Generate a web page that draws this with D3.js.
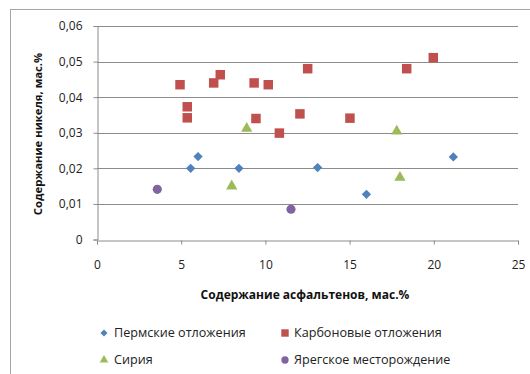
<!DOCTYPE html>
<html><head><meta charset="utf-8">
<script src="https://cdn.jsdelivr.net/npm/d3@7"></script>
<style>body{margin:0;background:#fff}svg{display:block}text{font-family:"Open Sans","Liberation Sans",sans-serif}</style>
</head><body><svg id="c" width="530" height="374"></svg>
<script>
const permX = [5.56, 6.0, 8.43, 13.1, 16.0, 21.16];
const permY = [0.020, 0.0233, 0.020, 0.0202, 0.0127, 0.0232];
const carbX = [4.93, 5.36, 5.36, 6.93, 7.32, 9.33, 9.44, 10.17, 10.83, 12.05, 12.51, 15.02, 18.39, 19.97];
const carbY = [0.0435, 0.0373, 0.0342, 0.044, 0.0463, 0.044, 0.034, 0.0435, 0.0299, 0.0353, 0.048, 0.0341, 0.048, 0.0511];
const syrX = [8.0, 8.89, 17.8, 17.99];
const syrY = [0.0150, 0.0312, 0.0304, 0.0174];
const yarX = [3.58, 11.52];
const yarY = [0.0141, 0.0085];
const xTicks = [0, 5, 10, 15, 20, 25];
const yTicks = [0, 0.01, 0.02, 0.03, 0.04, 0.05, 0.06];
const seriesNames = ["Пермские отложения", "Карбоновые отложения", "Сирия", "Ярегское месторождение"];
const xTitle = "Содержание асфальтенов,  мас.%";
const yTitle = "Содержание никеля, мас.%";

const svg = d3.select("#c");
svg.append("rect").attr("x",10.5).attr("y",9.5).attr("width",540).attr("height",400)
  .attr("fill","#fff").attr("stroke","#a6a6a6");

const x = d3.scaleLinear().domain([0,25]).range([97,518]);
const y = d3.scaleLinear().domain([0,0.06]).range([239.5,26]);

svg.append("g").selectAll("line").data(yTicks.filter(d=>d>0)).join("line")
  .attr("x1",x(0)).attr("x2",x(25)).attr("y1",d=>Math.round(y(d))+0.5).attr("y2",d=>Math.round(y(d))+0.5)
  .attr("stroke","#8c8c8c").attr("stroke-width",1);

const fmt = d => d===0 ? "0" : d3.format(".2f")(d).replace(".",",");
const yAxis = svg.append("g").attr("transform",`translate(${x(0)+0.5},0)`)
  .call(d3.axisLeft(y).tickValues(yTicks).tickFormat(fmt).tickSize(4).tickPadding(11));
const xAxis = svg.append("g").attr("transform",`translate(0,${Math.round(y(0))+0.5})`)
  .call(d3.axisBottom(x).tickValues(xTicks).tickFormat(d3.format("d")).tickSize(4).tickPadding(16));
[yAxis,xAxis].forEach(a=>{
  a.select(".domain").attr("stroke","#8c8c8c");
  a.selectAll(".tick line").attr("stroke","#8c8c8c");
  a.selectAll(".tick text").attr("fill","#222").attr("font-size","12px");
});

svg.append("text").attr("x",305).attr("y",299).attr("text-anchor","middle")
  .attr("font-size","12px").attr("font-weight","bold").attr("fill","#111").text(xTitle);
svg.append("text").attr("transform","translate(42,134) rotate(-90)").attr("text-anchor","middle")
  .attr("font-size","11.3px").attr("font-weight","bold").attr("fill","#111").text(yTitle);

const colors = ["#4F81BD","#C0504D","#9BBB59","#8064A2"];
const shapes = [
  d3.symbol().type(d3.symbolDiamond2).size(55),
  d3.symbol().type(d3.symbolSquare).size(90),
  d3.symbol().type(d3.symbolTriangle).size(55),
  d3.symbol().type(d3.symbolCircle).size(65)
];
const series = [
  permX.map((v,i)=>[v,permY[i]]),
  carbX.map((v,i)=>[v,carbY[i]]),
  syrX.map((v,i)=>[v,syrY[i]]),
  yarX.map((v,i)=>[v,yarY[i]])
];
series.forEach((pts,si)=>{
  svg.append("g").selectAll("path").data(pts).join("path")
    .attr("transform",d=>`translate(${x(d[0])},${y(d[1])})`)
    .attr("d",shapes[si]()).attr("fill",colors[si]);
});

const legPos = [[104,333],[285,333],[104,360],[285,360]];
const legShapes = [
  d3.symbol().type(d3.symbolDiamond2).size(32),
  d3.symbol().type(d3.symbolSquare).size(55),
  d3.symbol().type(d3.symbolTriangle).size(32),
  d3.symbol().type(d3.symbolCircle).size(42)
];
seriesNames.forEach((n,i)=>{
  const g = svg.append("g").attr("transform",`translate(${legPos[i][0]},${legPos[i][1]})`);
  g.append("path").attr("d",legShapes[i]()).attr("fill",colors[i]);
  g.append("text").attr("x",i%2===0?10:9).attr("dy","0.35em").attr("font-size","12.6px").attr("fill","#222").text(n);
});
</script></body></html>
